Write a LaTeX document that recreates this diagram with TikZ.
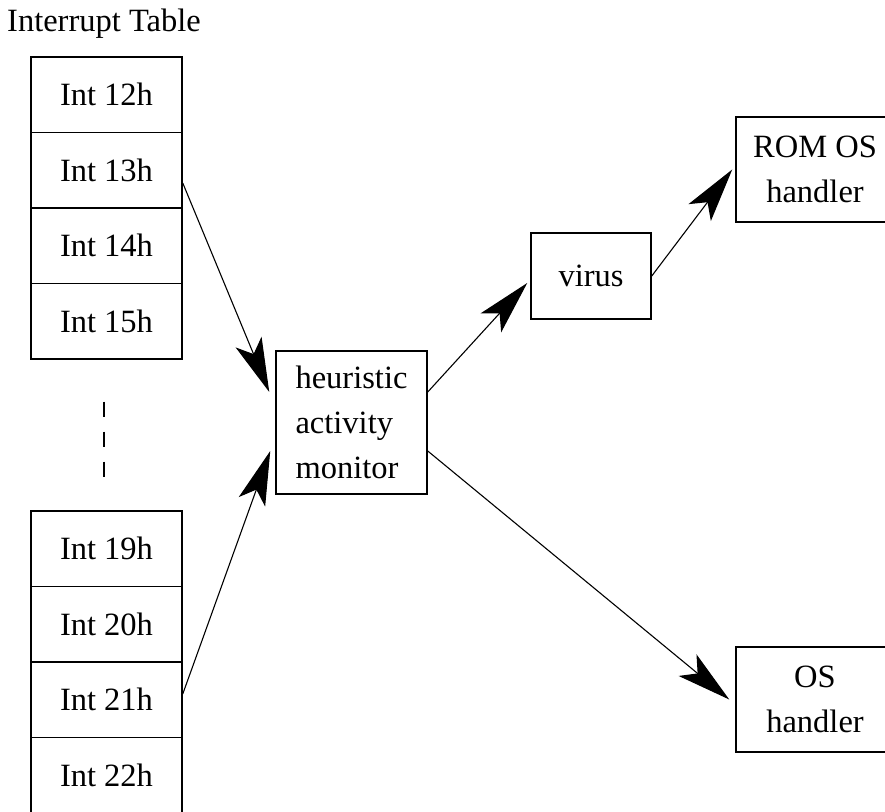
\documentclass[tikz,border=0pt]{standalone}
\usepackage{fontspec}
\setmainfont{Liberation Serif}
\usetikzlibrary{arrows.meta}
\begin{document}
\begin{tikzpicture}[x=1pt,y=1pt,
  txt/.style={font=\fontsize{32.5pt}{45pt}\selectfont},
  box/.style={txt, draw, line width=1.5pt, minimum width=151pt, minimum height=75.5pt, inner sep=0pt},
  conn/.style={line width=1.1pt, -{Stealth[length=54pt,width=28pt,inset=13pt]}},
  gapline/.style={line width=1.4pt, dash pattern=on 15pt off 15pt}
]
\useasboundingbox (0,0) rectangle (885,811);
\node[txt, anchor=base west, inner sep=0pt] (title) at (7,779) {Interrupt Table};
\node[box] (i12) at (106.5,716.25) {Int 12h};
\node[box] (i13) at (106.5,640.75) {Int 13h};
\node[box] (i14) at (106.5,565.25) {Int 14h};
\node[box] (i15) at (106.5,489.75) {Int 15h};
\node[box] (i19) at (106.5,262.25) {Int 19h};
\node[box] (i20) at (106.5,186.75) {Int 20h};
\node[box] (i21) at (106.5,111.25) {Int 21h};
\node[box] (i22) at (106.5,35.75) {Int 22h};
\node[box, minimum height=143pt, align=left] (heur) at (351.5,388.5) {heuristic\\activity\\monitor};
\node[box, minimum width=120pt, minimum height=86pt] (virus) at (591,535) {virus};
\node[box, minimum width=158pt, minimum height=105pt, align=center] (rom) at (815,641.5) {ROM OS\\handler};
\node[box, minimum width=158pt, minimum height=105pt, align=center] (os) at (815,111.5) {OS\\handler};
\draw[gapline] ([xshift=-2.5pt,yshift=-42pt]i15.south) -- ([xshift=-2.5pt,yshift=-118pt]i15.south);
\draw[conn] ([yshift=-12.75pt]i13.east) -- ([xshift=-6pt,yshift=30.5pt]heur.west);
\draw[conn] ([yshift=5.75pt]i21.east) -- ([xshift=-5pt,yshift=-28.5pt]heur.west);
\draw[conn] ([yshift=30.5pt]heur.east) -- ([xshift=-3pt,yshift=-7pt]virus.west);
\draw[conn] (virus.east) -- ([xshift=-3pt]rom.west);
\draw[conn] ([yshift=-28.5pt]heur.east) -- ([xshift=-6pt]os.west);
\end{tikzpicture}
\end{document}
